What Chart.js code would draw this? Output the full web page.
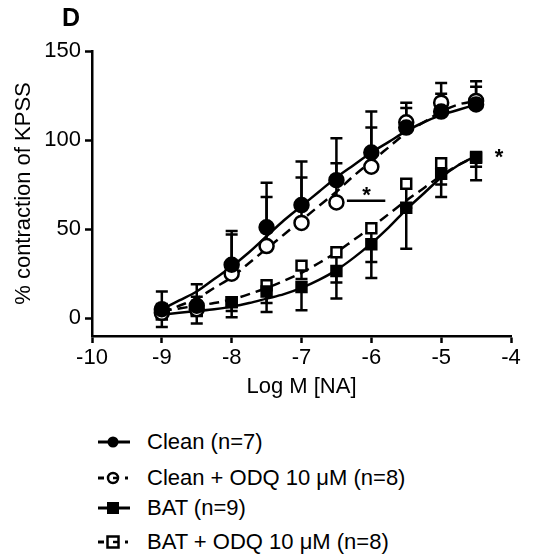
<!DOCTYPE html>
<html>
<head>
<meta charset="utf-8">
<script src="https://cdn.jsdelivr.net/npm/chart.js@4.4.0/dist/chart.umd.min.js"></script>
<style>
  body { margin: 0; background: #fff; font-family: "Liberation Sans", Arial, sans-serif; }
  #wrap { position: relative; width: 534px; height: 556px; }
  #box { position: absolute; left: 0; top: 0; width: 534px; height: 400px; }
  #panel { position: absolute; left: 62px; top: 3px; font-size: 25px; font-weight: bold; }
  .row { position: absolute; left: 96px; height: 24px; display: flex; align-items: center; font-size: 22px; white-space: nowrap; }
  .row svg { margin-right: 15px; }
</style>
</head>
<body>
<div id="wrap">
  <div id="box"><canvas id="chart"></canvas></div>
  <div id="panel">D</div>
  <div class="row" style="top:430px">
    <svg width="36" height="20"><line x1="2" y1="10" x2="34" y2="10" stroke="#000" stroke-width="3"/><circle cx="17" cy="10" r="5.5" fill="#000"/></svg>Clean (n=7)</div>
  <div class="row" style="top:466px">
    <svg width="36" height="20"><line x1="2" y1="10" x2="8" y2="10" stroke="#000" stroke-width="3"/><circle cx="17" cy="10" r="5" fill="#fff" stroke="#000" stroke-width="2.5"/><line x1="17" y1="10" x2="22" y2="10" stroke="#000" stroke-width="2.5"/><line x1="29" y1="10" x2="32" y2="10" stroke="#000" stroke-width="3"/></svg>Clean + ODQ 10 μM (n=8)</div>
  <div class="row" style="top:496px">
    <svg width="36" height="20"><line x1="2" y1="10" x2="34" y2="10" stroke="#000" stroke-width="3"/><rect x="11" y="4" width="12" height="12" fill="#000"/></svg>BAT (n=9)</div>
  <div class="row" style="top:530px">
    <svg width="36" height="20"><line x1="2" y1="10" x2="8" y2="10" stroke="#000" stroke-width="3"/><rect x="11.5" y="4.5" width="11" height="11" fill="#fff" stroke="#000" stroke-width="2.5"/><line x1="17" y1="10" x2="22" y2="10" stroke="#000" stroke-width="2.5"/><line x1="29" y1="10" x2="32" y2="10" stroke="#000" stroke-width="3"/></svg>BAT + ODQ 10 μM (n=8)</div>
</div>
<script>
// concentrations (log M)
const doses = [-9, -8.5, -8, -7.5, -7, -6.5, -6, -5.5, -5, -4.5];

// means
const cleanMean = [5, 7, 30, 51, 63.5, 77.5, 93, 107, 116, 120];
const cleanOdqMean = [3, 5, 25, 40.5, 53.5, 65, 85, 110, 121, 122];
const batMean = [2, 4, 9, 15, 17.5, 26.5, 41.5, 62, 81, 90.5];
const batOdqMean = [4, 6, 9, 18.5, 29.5, 37, 50.5, 75.5, 87, 90];

// error bar ends (clean groups drawn up, BAT groups drawn down)
const cleanTop = [15, 19, 49, 76, 88, 101, 116, 118, 126, 130];
const cleanOdqTop = [8, 12, 47, 68, 79, 87, 107, 121, 132, 133];
const batBottom = [-5, -3, 0.5, 3.5, 4.5, 11, 22.5, 39, 68, 77.5];
const batOdqBottom = [0, 2, 4, 8.5, 22, 20, 31.5, 62, 75, 85];

// fitted curves
const fitX = [-9, -8.75, -8.5, -8.25, -8, -7.75, -7.5, -7.25, -7, -6.75, -6.5, -6.25, -6, -5.75, -5.5, -5.25, -5, -4.75, -4.5];
const cleanFit = [5, 10, 15, 22, 29, 37, 46, 55, 63, 71, 79, 86, 93, 99, 105, 110, 114, 117, 120];
const cleanOdqFit = [3, 7, 11, 17, 23, 31, 39, 47, 55, 63, 71, 80, 88, 96, 104, 110, 116, 120, 122];
const batFit = [2, 3, 4, 5, 6.5, 8.5, 11, 13.5, 17, 21.5, 27, 34, 42, 51, 61, 70, 79, 86, 91];
const batOdqFit = [4, 5.5, 7, 8.5, 10.5, 13.5, 17, 21, 25.5, 31, 37, 44, 51, 58.5, 66, 73, 80, 86, 91];

// significance marks
const sigLineX = [-6.35, -5.8];
const sigLineY = [66, 66];
const starX = [-6.07, -4.17];
const starY = [71, 92];

const xTicks = [-10, -9, -8, -7, -6, -5, -4];
const yTicks = [0, 50, 100, 150];

const pts = (xs, ys) => xs.map((v, i) => ({x: v, y: ys[i]}));

const errSets = [
  {mean: cleanMean, end: cleanTop},
  {mean: cleanOdqMean, end: cleanOdqTop},
  {mean: batMean, end: batBottom},
  {mean: batOdqMean, end: batOdqBottom}
];

const errorBars = {
  id: 'errorBars',
  beforeDatasetsDraw(chart) {
    const {ctx, scales: {x, y}} = chart;
    ctx.save();
    ctx.strokeStyle = '#000';
    ctx.lineWidth = 2.5;
    errSets.forEach(s => {
      doses.forEach((d, i) => {
        const px = x.getPixelForValue(d);
        const p0 = y.getPixelForValue(s.mean[i]);
        const p1 = y.getPixelForValue(s.end[i]);
        ctx.beginPath();
        ctx.moveTo(px, p0);
        ctx.lineTo(px, p1);
        ctx.moveTo(px - 6, p1);
        ctx.lineTo(px + 6, p1);
        ctx.stroke();
      });
    });
    ctx.restore();
  },
  afterDatasetsDraw(chart) {
    const {ctx, scales: {x, y}} = chart;
    ctx.save();
    ctx.fillStyle = '#000';
    ctx.font = 'bold 22px "Liberation Sans", Arial';
    ctx.textAlign = 'center';
    ctx.textBaseline = 'middle';
    starX.forEach((v, i) => {
      ctx.fillText('*', x.getPixelForValue(v), y.getPixelForValue(starY[i]) + 4);
    });
    ctx.restore();
  }
};

const markerSet = (label, data, style, fill) => ({
  label, data: pts(doses, data),
  showLine: false,
  pointStyle: style,
  pointRadius: 7,
  pointBackgroundColor: fill,
  pointBorderColor: '#000',
  pointBorderWidth: 2.5,
  order: 1
});

const curveSet = (data, dash) => ({
  data: pts(fitX, data),
  showLine: true,
  borderColor: '#000',
  borderWidth: 2.5,
  borderDash: dash,
  pointRadius: 0,
  cubicInterpolationMode: 'monotone',
  order: 2
});

new Chart(document.getElementById('chart'), {
  type: 'scatter',
  data: {
    datasets: [
      markerSet('Clean (n=7)', cleanMean, 'circle', '#000'),
      markerSet('Clean + ODQ 10 μM (n=8)', cleanOdqMean, 'circle', '#fff'),
      markerSet('BAT (n=9)', batMean, 'rect', '#000'),
      markerSet('BAT + ODQ 10 μM (n=8)', batOdqMean, 'rect', '#fff'),
      curveSet(cleanFit, []),
      curveSet(cleanOdqFit, [10, 6]),
      curveSet(batFit, []),
      curveSet(batOdqFit, [10, 6]),
      {data: pts(sigLineX, sigLineY), showLine: true, borderColor: '#000', borderWidth: 2.5, pointRadius: 0, order: 3}
    ]
  },
  options: {
    responsive: true,
    maintainAspectRatio: false,
    animation: false,
    layout: {padding: {top: 51, right: 23, bottom: 0, left: 0}},
    plugins: {legend: {display: false}, tooltip: {enabled: false}},
    scales: {
      x: {
        type: 'linear', min: -10, max: -4,
        afterBuildTicks: s => { s.ticks = xTicks.map(v => ({value: v})); },
        afterFit: s => { s.height = 64; },
        grid: {drawOnChartArea: false, tickLength: 7, tickWidth: 2.5, tickColor: '#000'},
        border: {color: '#000', width: 2.5},
        ticks: {color: '#000', padding: 2, font: {family: '"Liberation Sans", Arial', size: 22}},
        title: {display: true, text: 'Log M [NA]', color: '#000', padding: {top: 0, bottom: 0},
          font: {family: '"Liberation Sans", Arial', size: 22}}
      },
      y: {
        type: 'linear', min: -10, max: 150,
        afterBuildTicks: s => { s.ticks = yTicks.map(v => ({value: v})); },
        afterFit: s => { s.width = 92; },
        grid: {drawOnChartArea: false, tickLength: 7, tickWidth: 2.5, tickColor: '#000'},
        border: {color: '#000', width: 2.5},
        ticks: {color: '#000', padding: 4, font: {family: '"Liberation Sans", Arial', size: 22}},
        title: {display: true, text: '% contraction of KPSS', color: '#000', padding: {top: 11, bottom: 0},
          font: {family: '"Liberation Sans", Arial', size: 22}}
      }
    }
  },
  plugins: [errorBars]
});
</script>
</body>
</html>
